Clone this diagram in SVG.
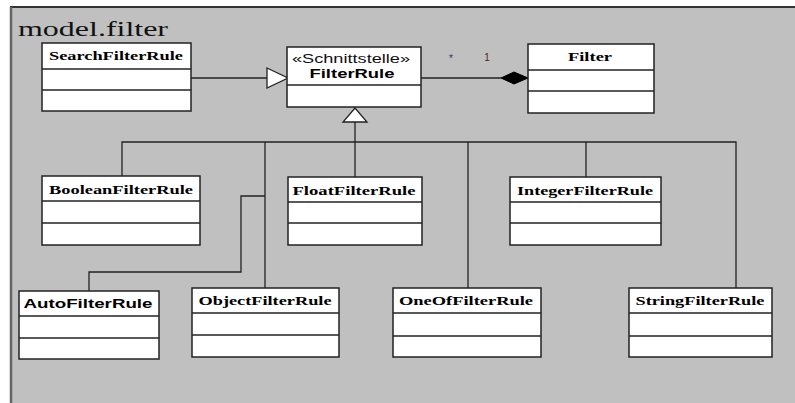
<svg xmlns="http://www.w3.org/2000/svg" width="795" height="403" viewBox="0 0 795 403">
<style>
.box{fill:#fff;stroke:#222;stroke-width:1.5}
.div{stroke:#222;stroke-width:1.3}
.ln{fill:none;stroke:#222;stroke-width:1.3}
.lbl{font-family:"Liberation Serif",serif;font-weight:bold;font-size:13px;fill:#000;text-anchor:middle}
.sl{font-family:"Liberation Sans",sans-serif;font-weight:bold;font-size:13px;fill:#000;text-anchor:middle}
</style>
<rect x="0" y="0" width="795" height="403" fill="#fff"/>
<rect x="11" y="7" width="784" height="396" fill="#c0c0c0"/>
<line x1="10" y1="7" x2="795" y2="7" stroke="#333" stroke-width="2"/>
<line x1="11" y1="7" x2="11" y2="403" stroke="#666" stroke-width="2.5"/>
<text x="18" y="36" font-family="Liberation Serif,serif" font-size="22" textLength="150" lengthAdjust="spacingAndGlyphs" fill="#111">model.filter</text>

<g id="connectors">
  <line class="ln" x1="191" y1="78" x2="267" y2="78"/>
  <polygon points="267,68 288,78 267,88" fill="#fff" stroke="#222" stroke-width="1.3"/>
  <line class="ln" x1="421" y1="78" x2="501" y2="78"/>
  <polygon points="501,78 514,72 528,78 514,84" fill="#000" stroke="#000" stroke-width="1"/>
  <text x="451" y="62" font-family="Liberation Sans,sans-serif" font-size="10" fill="#335" text-anchor="middle">*</text>
  <text x="487" y="61" font-family="Liberation Sans,sans-serif" font-size="10" fill="#522" text-anchor="middle">1</text>
  <polygon points="355,108 367,122 343,122" fill="#fff" stroke="#222" stroke-width="1.3"/>
  <line class="ln" x1="355" y1="122" x2="355" y2="177"/>
  <polyline class="ln" points="122,176 122,142 736,142 736,288"/>
  <line class="ln" x1="265" y1="142" x2="265" y2="288"/>
  <line class="ln" x1="468" y1="142" x2="468" y2="288"/>
  <line class="ln" x1="586" y1="142" x2="586" y2="177"/>
  <polyline class="ln" points="265,196 241,196 241,272 89,272 89,291"/>
</g>

<g id="SearchFilterRule">
  <rect class="box" x="42" y="43" width="149" height="68"/>
  <line class="div" x1="42" y1="69" x2="191" y2="69"/>
  <line class="div" x1="42" y1="90" x2="191" y2="90"/>
  <text class="lbl" x="116" y="60" textLength="134" lengthAdjust="spacingAndGlyphs">SearchFilterRule</text>
</g>
<g id="FilterRule">
  <rect class="box" x="287" y="47" width="134" height="60"/>
  <line class="div" x1="287" y1="85" x2="421" y2="85"/>
  <text x="351" y="63" font-family="Liberation Sans,sans-serif" font-size="12" fill="#111" text-anchor="middle" textLength="118" lengthAdjust="spacingAndGlyphs">«Schnittstelle»</text>
  <text class="sl" x="352" y="78" textLength="85" lengthAdjust="spacingAndGlyphs">FilterRule</text>
</g>
<g id="Filter">
  <rect class="box" x="528" y="44" width="126" height="69"/>
  <line class="div" x1="528" y1="70" x2="654" y2="70"/>
  <line class="div" x1="528" y1="91" x2="654" y2="91"/>
  <text class="lbl" x="590" y="61" textLength="44" lengthAdjust="spacingAndGlyphs">Filter</text>
</g>
<g id="BooleanFilterRule">
  <rect class="box" x="42" y="176" width="158" height="69"/>
  <line class="div" x1="42" y1="201" x2="200" y2="201"/>
  <line class="div" x1="42" y1="223" x2="200" y2="223"/>
  <text class="lbl" x="121" y="194" textLength="144" lengthAdjust="spacingAndGlyphs">BooleanFilterRule</text>
</g>
<g id="FloatFilterRule">
  <rect class="box" x="288" y="177" width="134" height="68"/>
  <line class="div" x1="288" y1="202" x2="422" y2="202"/>
  <line class="div" x1="288" y1="223" x2="422" y2="223"/>
  <text class="lbl" x="354" y="195" textLength="123" lengthAdjust="spacingAndGlyphs">FloatFilterRule</text>
</g>
<g id="IntegerFilterRule">
  <rect class="box" x="510" y="177" width="151" height="68"/>
  <line class="div" x1="510" y1="202" x2="661" y2="202"/>
  <line class="div" x1="510" y1="223" x2="661" y2="223"/>
  <text class="lbl" x="585" y="195" textLength="136" lengthAdjust="spacingAndGlyphs">IntegerFilterRule</text>
</g>
<g id="AutoFilterRule">
  <rect class="box" x="19" y="291" width="140" height="68"/>
  <line class="div" x1="19" y1="316" x2="159" y2="316"/>
  <line class="div" x1="19" y1="338" x2="159" y2="338"/>
  <text class="sl" x="88" y="308" textLength="129" lengthAdjust="spacingAndGlyphs">AutoFilterRule</text>
</g>
<g id="ObjectFilterRule">
  <rect class="box" x="192" y="288" width="147" height="69"/>
  <line class="div" x1="192" y1="313" x2="339" y2="313"/>
  <line class="div" x1="192" y1="335" x2="339" y2="335"/>
  <text class="lbl" x="265" y="305" textLength="133" lengthAdjust="spacingAndGlyphs">ObjectFilterRule</text>
</g>
<g id="OneOfFilterRule">
  <rect class="box" x="393" y="288" width="148" height="69"/>
  <line class="div" x1="393" y1="313" x2="541" y2="313"/>
  <line class="div" x1="393" y1="336" x2="541" y2="336"/>
  <text class="lbl" x="466" y="305" textLength="134" lengthAdjust="spacingAndGlyphs">OneOfFilterRule</text>
</g>
<g id="StringFilterRule">
  <rect class="box" x="629" y="288" width="143" height="69"/>
  <line class="div" x1="629" y1="313" x2="772" y2="313"/>
  <line class="div" x1="629" y1="336" x2="772" y2="336"/>
  <text class="lbl" x="700" y="305" textLength="129" lengthAdjust="spacingAndGlyphs">StringFilterRule</text>
</g>
</svg>
